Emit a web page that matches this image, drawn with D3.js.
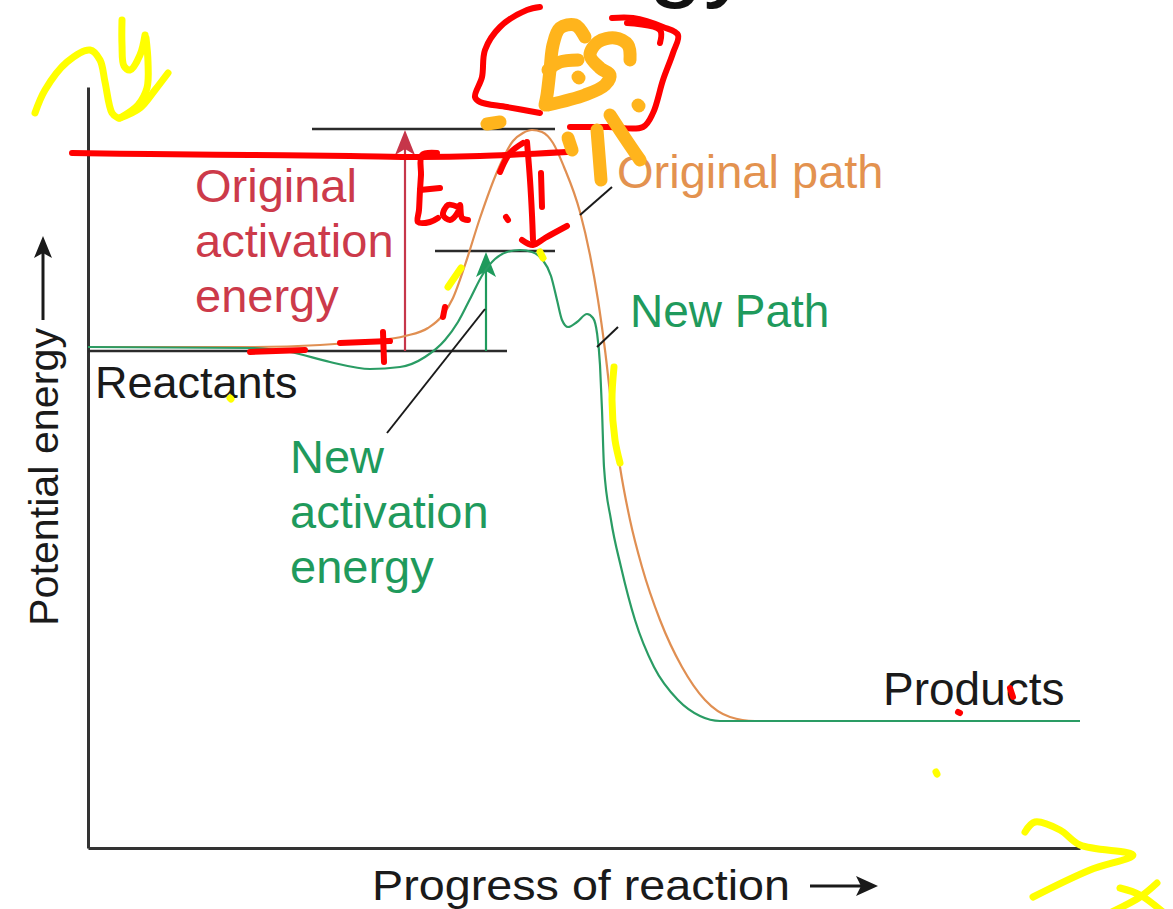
<!DOCTYPE html>
<html>
<head>
<meta charset="utf-8">
<script src="https://cdn.jsdelivr.net/npm/d3@7"></script>
<style>
  body { margin: 0; background: #fff; }
  svg { display: block; font-family: "Liberation Sans", Arial, Helvetica, sans-serif; }
</style>
</head>
<body>
<svg id="chart" width="1173" height="909"></svg>
<script>
// progress of reaction (0 - 99.2) vs potential energy (0 - 76.1), arbitrary units
const originalPath = [
  [0, 50.1], [16.2, 50.1], [23.2, 50.3], [28.2, 50.7], [31.7, 51.2], [34.0, 52.0],
  [35.4, 53.2], [36.5, 55.0], [37.7, 58.3], [39.2, 63.0], [40.9, 67.6], [42.5, 70.7],
  [43.5, 71.5], [44.4, 71.8], [45.4, 71.6], [46.5, 70.5], [47.6, 68.1], [49.2, 63.6],
  [50.2, 59.3], [51.0, 54.8], [51.7, 49.8], [52.4, 43.8], [53.2, 38.1], [54.2, 32.8],
  [55.4, 28.1], [57.2, 22.8], [59.4, 18.1], [61.7, 14.8], [64.2, 13.1], [66.7, 12.7],
  [99.2, 12.7]
];
const newPath = [
  [0, 50.1], [16.2, 50.0], [20.2, 49.6], [24.2, 48.6], [28.2, 47.9], [31.2, 48.1],
  [33.7, 49.1], [35.7, 50.8], [37.0, 52.6], [38.2, 54.9], [39.5, 57.4], [40.7, 58.9],
  [41.9, 59.6], [43.2, 59.8], [44.4, 59.6], [45.4, 58.9], [46.3, 57.2], [46.9, 54.8],
  [47.4, 52.8], [48.0, 52.1], [48.9, 52.6], [49.9, 53.4], [50.5, 53.0], [50.9, 51.5],
  [51.2, 48.3], [51.4, 43.8], [51.6, 38.1], [52.3, 32.8], [53.3, 28.1], [54.7, 22.8],
  [56.6, 18.1], [59.0, 14.8], [61.2, 13.2], [63.2, 12.7], [99.2, 12.7]
];

// energy levels and where their guide lines run
const reactantLevel = 49.7;
const originalPeak = 71.9;
const newPeak = 59.7;
const levelSpans = [[0, 41.9], [22.4, 46.7], [34.7, 46.7]];
const eaProgress = [31.7, 39.8];   // original, new

const originalLabel = ["Original", "activation", "energy"];
const newLabel = ["New", "activation", "energy"];
const pathLabels = ["Original path", "New Path"];
const stateLabels = ["Reactants", "Products"];
const axisTitles = ["Progress of reaction", "Potential energy"];

// hand-drawn pen marks on top of the figure (same units)
const redInk = [
  [[-1.6, 69.5], [6.2, 69.4], [16.2, 69.3], [26.2, 69.2], [33.2, 69.1], [39.2, 69.2], [47.9, 69.6]],
  [[45.2, 84.1], [43.9, 83.8], [41.2, 82.1], [39.7, 79.8], [39.4, 77.1], [38.7, 75.1], [39.2, 74.6], [41.9, 74.1], [45.2, 73.5]],
  [[52.4, 83.0], [54.5, 83.0], [57.5, 82.1], [59.0, 81.3], [58.5, 79.5], [57.5, 76.8], [56.5, 73.5], [55.5, 72.1], [52.0, 72.1], [48.2, 72.1]],
  [[53.9, 82.5], [57.2, 81.8], [57.2, 80.5]],
  [[41.2, 67.6], [42.2, 69.5], [43.5, 70.5]],
  [[43.9, 70.6], [44.2, 66.8], [44.4, 63.3], [44.5, 60.8]],
  [[43.4, 60.8], [44.5, 60.3], [45.7, 61.0], [47.9, 62.2]],
  [[45.3, 67.5], [45.4, 64.1]],
  [[41.8, 63.1], [42.0, 62.8]],
  [[34.9, 69.5], [33.4, 69.3], [33.3, 67.3], [33.2, 65.8], [33.1, 63.8], [33.0, 62.6], [34.2, 62.6], [35.0, 63.0]],
  [[33.2, 65.8], [35.2, 66.0]],
  [[37.0, 64.1], [36.0, 64.3], [35.5, 63.3], [36.2, 62.8], [37.0, 63.6], [37.2, 64.3], [37.4, 63.0], [38.0, 62.8]],
  [[16.2, 49.6], [21.7, 49.8]],
  [[25.2, 50.5], [30.2, 50.7]],
  [[29.5, 51.6], [29.6, 48.6]],
  [[35.7, 54.1], [35.5, 53.1]],
  [[87.0, 13.6], [87.2, 13.5]],
  [[92.2, 16.0], [92.5, 15.1]]
];
const yellowInk = [
  [[-5.3, 73.5], [-4.3, 75.8], [-2.1, 78.6], [0.2, 79.8], [1.2, 78.8], [1.7, 76.6], [2.4, 73.5], [3.0, 73.0]],
  [[3.4, 82.8], [3.4, 80.3], [3.6, 78.2], [4.2, 77.8], [5.2, 79.3], [5.7, 81.3]],
  [[5.8, 81.0], [6.0, 78.6], [5.9, 76.0], [5.0, 74.3], [3.2, 73.0]],
  [[3.2, 73.0], [5.2, 74.0], [6.7, 75.8], [8.0, 77.5]],
  [[93.7, 1.6], [94.7, 2.6], [97.2, 1.8], [99.2, 0.3], [104.5, -0.7], [100.2, -2.2], [94.5, -4.9]],
  [[103.2, -4.0], [105.2, -4.7], [107.5, -6.4]],
  [[106.9, -3.5], [105.2, -4.9], [102.4, -6.4]],
  [[36.0, 56.1], [37.3, 58.0]],
  [[52.6, 48.1], [52.4, 44.8], [52.7, 40.8], [53.2, 38.5]],
  [[45.2, 59.6], [45.5, 59.0]],
  [[84.8, 7.6], [84.9, 7.4]],
  [[14.2, 45.0], [14.3, 44.9]]
];
const orangeInk = [
  [[49.7, 81.1], [48.7, 82.3], [47.2, 82.0], [46.5, 80.3], [46.2, 77.8], [45.9, 75.3], [45.7, 74.3]],
  [[46.0, 77.8], [47.2, 78.6], [49.0, 78.8]],
  [[54.2, 78.8], [54.0, 80.3], [52.7, 81.0], [51.0, 80.6], [50.2, 79.3], [51.2, 78.0], [52.2, 77.3], [51.7, 76.3], [49.7, 75.3], [46.0, 74.3]],
  [[49.0, 77.1], [49.1, 77.0]],
  [[39.9, 72.4], [41.2, 72.6]],
  [[50.9, 71.8], [51.1, 69.3], [51.3, 66.8]],
  [[52.2, 73.3], [53.7, 71.0], [55.2, 68.8]],
  [[55.0, 74.3], [55.1, 74.2]],
  [[48.0, 71.0], [48.4, 69.8]]
];

const svg = d3.select("#chart");

const x = d3.scaleLinear().domain([0, 99.2]).range([88, 1080]);
const y = d3.scaleLinear().domain([0, 76.1]).range([848, 87]);

// axes: plain lines, no ticks
svg.append("g")
  .attr("transform", "translate(" + x(0) + ",0)")
  .call(d3.axisLeft(y).tickValues([]).tickSizeOuter(0))
  .select(".domain").attr("stroke", "#333").attr("stroke-width", 3);
svg.append("g")
  .attr("transform", "translate(0," + y(0) + ")")
  .call(d3.axisBottom(x).tickValues([]).tickSizeOuter(0))
  .select(".domain").attr("stroke", "#333").attr("stroke-width", 3);

// axis titles with arrows
svg.append("text")
  .attr("x", 372).attr("y", 900)
  .attr("font-size", 42).attr("fill", "#1a1a1a")
  .attr("textLength", 418)
  .attr("lengthAdjust", "spacingAndGlyphs")
  .text(axisTitles[0]);
svg.append("line")
  .attr("x1", 810).attr("x2", 864).attr("y1", 886).attr("y2", 886)
  .attr("stroke", "#1a1a1a").attr("stroke-width", 3);
svg.append("path")
  .attr("d", "M878,886 L856,876 L861,886 L856,896 Z")
  .attr("fill", "#1a1a1a");

svg.append("text")
  .attr("transform", "translate(58,626) rotate(-90)")
  .attr("font-size", 41).attr("fill", "#1a1a1a")
  .attr("textLength", 298)
  .attr("lengthAdjust", "spacingAndGlyphs")
  .text(axisTitles[1]);
svg.append("line")
  .attr("x1", 43).attr("x2", 43).attr("y1", 320).attr("y2", 252)
  .attr("stroke", "#1a1a1a").attr("stroke-width", 3);
svg.append("path")
  .attr("d", "M43,236 L34,258 L43,253 L52,258 Z")
  .attr("fill", "#1a1a1a");

// energy level guide lines
const levels = [reactantLevel, originalPeak, newPeak];
svg.selectAll(".level")
  .data(levels)
  .enter()
  .append("line")
  .attr("class", "level")
  .attr("x1", (d, i) => x(levelSpans[i][0]))
  .attr("x2", (d, i) => x(levelSpans[i][1]))
  .attr("y1", d => y(d))
  .attr("y2", d => y(d))
  .attr("stroke", "#2b2b2b")
  .attr("stroke-width", 2.5);

// activation energy arrows
const eaTops = [originalPeak, newPeak];
const eaColors = ["#c6364a", "#1f9a5c"];
eaProgress.forEach(function (p, i) {
  const px = x(p);
  const top = y(eaTops[i]);
  svg.append("line")
    .attr("x1", px).attr("x2", px)
    .attr("y1", y(reactantLevel)).attr("y2", top + 18)
    .attr("stroke", eaColors[i]).attr("stroke-width", 2.2);
  svg.append("path")
    .attr("d", "M" + px + "," + (top + 1) + " L" + (px - 10) + "," + (top + 26) +
      " L" + px + "," + (top + 20) + " L" + (px + 10) + "," + (top + 26) + " Z")
    .attr("fill", eaColors[i]);
});

// reaction paths
const line = d3.line()
  .x(d => x(d[0]))
  .y(d => y(d[1]))
  .curve(d3.curveMonotoneX);

svg.append("path")
  .datum(originalPath)
  .attr("d", line)
  .attr("fill", "none")
  .attr("stroke", "#e08f52")
  .attr("stroke-width", 2.2);

svg.append("path")
  .datum(newPath)
  .attr("d", line)
  .attr("fill", "none")
  .attr("stroke", "#2a9c64")
  .attr("stroke-width", 2.2);

// leader lines for labels
const leaders = [[[612, 187], [580, 215]], [[618, 327], [597, 347]], [[387, 433], [485, 309]]];
leaders.forEach(function (l) {
  svg.append("line")
    .attr("x1", l[0][0]).attr("y1", l[0][1])
    .attr("x2", l[1][0]).attr("y2", l[1][1])
    .attr("stroke", "#1a1a1a").attr("stroke-width", 2);
});

// labels
svg.append("g").selectAll("text")
  .data(originalLabel)
  .enter()
  .append("text")
  .attr("x", 195)
  .attr("y", (d, i) => 202 + i * 55)
  .attr("font-size", 47)
  .attr("fill", "#cc3a4a")
  .text(d => d);

svg.append("g").selectAll("text")
  .data(newLabel)
  .enter()
  .append("text")
  .attr("x", 290)
  .attr("y", (d, i) => 473 + i * 55)
  .attr("font-size", 47)
  .attr("fill", "#1f9a5c")
  .text(d => d);

svg.append("text")
  .attr("x", 617).attr("y", 188)
  .attr("font-size", 47).attr("fill", "#e3924f")
  .text(pathLabels[0]);
svg.append("text")
  .attr("x", 630).attr("y", 327)
  .attr("font-size", 46).attr("fill", "#1f9a5c")
  .text(pathLabels[1]);

svg.append("text")
  .attr("x", 95).attr("y", 398)
  .attr("font-size", 45).attr("fill", "#1a1a1a")
  .text(stateLabels[0]);
svg.append("text")
  .attr("x", 883).attr("y", 705)
  .attr("font-size", 46).attr("fill", "#1a1a1a")
  .text(stateLabels[1]);

// cut-off title at top edge
svg.append("text")
  .attr("x", 648).attr("y", -12)
  .attr("font-size", 100).attr("fill", "#111")
  .text("gy");

// pen marks
const ink = d3.line()
  .x(d => x(d[0]))
  .y(d => y(d[1]))
  .curve(d3.curveCatmullRom);

function drawInk(strokes, color, width) {
  svg.append("g").selectAll("path")
    .data(strokes)
    .enter()
    .append("path")
    .attr("d", ink)
    .attr("fill", "none")
    .attr("stroke", color)
    .attr("stroke-width", width)
    .attr("stroke-linecap", "round")
    .attr("stroke-linejoin", "round");
}

drawInk(redInk, "#ff0000", 6);
drawInk(orangeInk, "#ffb41c", 13);
drawInk(yellowInk, "#ffff00", 7);
</script>
</body>
</html>
